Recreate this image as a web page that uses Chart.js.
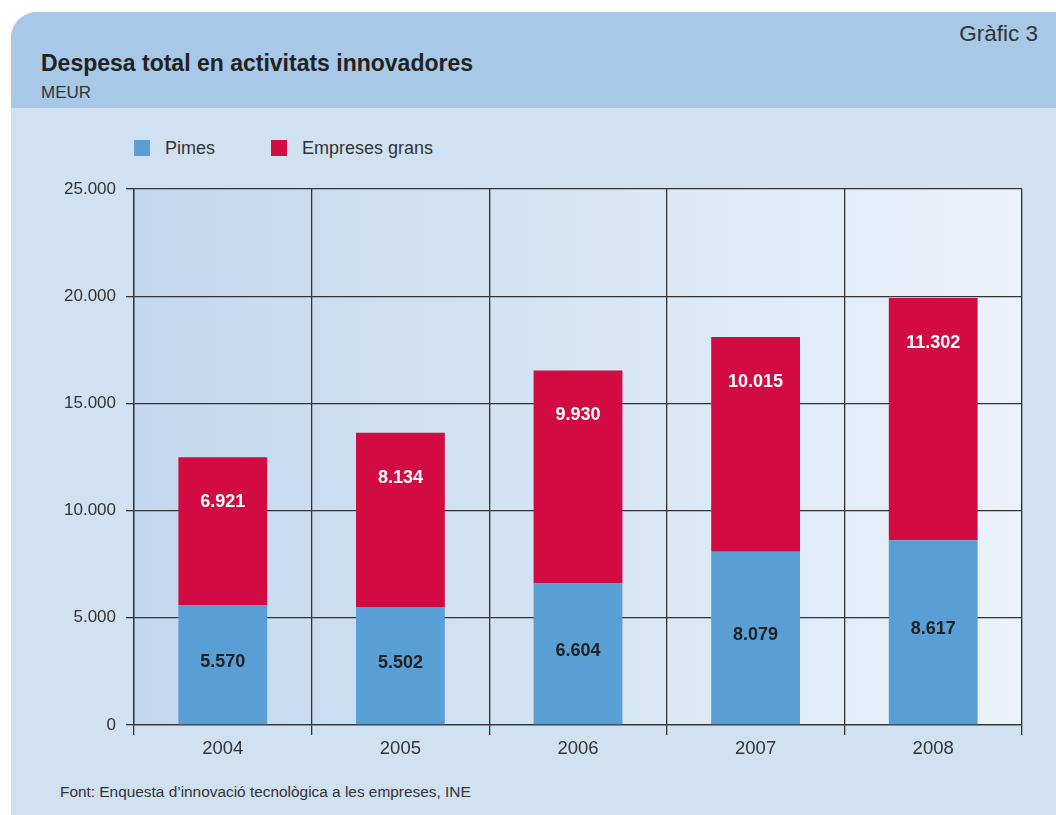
<!DOCTYPE html>
<html>
<head>
<meta charset="utf-8">
<script src="https://cdn.jsdelivr.net/npm/chart.js@4"></script>
<style>
  body { margin: 0; background: #fff; font-family: "Liberation Sans", Arial, sans-serif; }
  #wrap { position: relative; width: 1056px; height: 815px; overflow: hidden; }
  .panel { position: absolute; left: 11px; top: 12px; width: 1045px; height: 803px;
           background: #d0e1f1; border-top-left-radius: 26px; overflow: hidden; }
  .head { position: absolute; left: 0; top: 0; width: 100%; height: 96px; background: #a7c8e6; }
  .title { position: absolute; left: 41px; top: 50px; font-size: 23px; font-weight: bold; color: #222; }
  .sub { position: absolute; left: 41px; top: 83px; font-size: 17px; color: #333; }
  .num { position: absolute; right: 18px; top: 21px; font-size: 22.5px; color: #333; }
  .legend { position: absolute; top: 138px; font-size: 18px; color: #333; }
  .legend span.sw { position: absolute; top: 2px; width: 16px; height: 16px; }
  .foot { position: absolute; left: 60px; top: 783px; font-size: 15.4px; color: #333; }
  canvas { position: absolute; left: 0; top: 0; }
</style>
</head>
<body>
<div id="wrap">
  <div class="panel"><div class="head"></div></div>
  <div class="title">Despesa total en activitats innovadores</div>
  <div class="sub">MEUR</div>
  <div class="num">Gràfic 3</div>
  <div class="legend" id="legend"></div>
  <div class="foot">Font: Enquesta d’innovació tecnològica a les empreses, INE</div>
  <canvas id="myChart" width="1056" height="815"></canvas>
</div>
<script>
var years = ['2004', '2005', '2006', '2007', '2008'];
var pimes = [5570, 5502, 6604, 8079, 8617];
var grans = [6921, 8134, 9930, 10015, 11302];
var seriesNames = ['Pimes', 'Empreses grans'];
var seriesColors = ['#589fd5', '#d20c42'];

function fmt(v) {
  return String(v).replace(/\B(?=(\d{3})+(?!\d))/g, '.');
}

// html legend
var legendX = [134, 271];
var lg = document.getElementById('legend');
seriesNames.forEach(function(name, i) {
  lg.innerHTML += '<span class="sw" style="left:' + legendX[i] + 'px;background:' + seriesColors[i] + '"></span>' +
    '<span style="position:absolute;left:' + (legendX[i] + 31) + 'px;white-space:nowrap">' + name + '</span>';
});

var plotBg = {
  id: 'plotBg',
  beforeDraw: function(chart) {
    var a = chart.chartArea, ctx = chart.ctx;
    var g = ctx.createLinearGradient(a.left, 0, a.right, 0);
    g.addColorStop(0, '#c2d8ee');
    g.addColorStop(1, '#ebf2fa');
    ctx.save();
    ctx.fillStyle = g;
    ctx.fillRect(a.left, a.top, a.right - a.left, a.bottom - a.top);
    ctx.restore();
  }
};

var barLabels = {
  id: 'barLabels',
  afterDatasetsDraw: function(chart) {
    var ctx = chart.ctx;
    ctx.save();
    ctx.font = 'bold 18px "Liberation Sans", Arial, sans-serif';
    ctx.textAlign = 'center';
    ctx.textBaseline = 'middle';
    chart.data.datasets.forEach(function(ds, i) {
      chart.getDatasetMeta(i).data.forEach(function(bar, j) {
        var y;
        if (i === 0) {
          y = (bar.y + bar.base) / 2 - 3;
          ctx.fillStyle = '#222';
        } else {
          y = bar.y + 45;
          ctx.fillStyle = '#fff';
        }
        ctx.fillText(fmt(ds.data[j]), bar.x, y);
      });
    });
    ctx.restore();
  }
};

var ctx = document.getElementById('myChart');
var chart = new Chart(ctx, {
  type: 'bar',
  data: {
    labels: years,
    datasets: [
      { label: seriesNames[0], data: pimes, backgroundColor: seriesColors[0], barPercentage: 0.5, categoryPercentage: 1 },
      { label: seriesNames[1], data: grans, backgroundColor: seriesColors[1], barPercentage: 0.5, categoryPercentage: 1 }
    ]
  },
  options: {
    responsive: false,
    devicePixelRatio: 1,
    animation: false,
    layout: { padding: { left: 0, right: 34, top: 189, bottom: 40 } },
    plugins: { legend: { display: false }, tooltip: { enabled: false } },
    scales: {
      x: {
        stacked: true,
        grid: { color: '#333', lineWidth: 1.3, tickLength: 10, offset: true },
        border: { color: '#333', width: 1.3 },
        ticks: { color: '#333', font: { size: 18.5, family: '"Liberation Sans", Arial, sans-serif' }, padding: 3 },
        afterFit: function(s) { s.height = 50; }
      },
      y: {
        stacked: true,
        min: 0,
        max: 25000,
        grid: { color: '#333', lineWidth: 1.3, tickLength: 8 },
        border: { color: '#333', width: 1.3 },
        ticks: {
          stepSize: 5000,
          color: '#333',
          padding: 10,
          font: { size: 17, family: '"Liberation Sans", Arial, sans-serif' },
          callback: function(v) { return fmt(v); }
        },
        afterFit: function(s) { s.width = 134; }
      }
    }
  },
  plugins: [plotBg, barLabels]
});
</script>
</body>
</html>
